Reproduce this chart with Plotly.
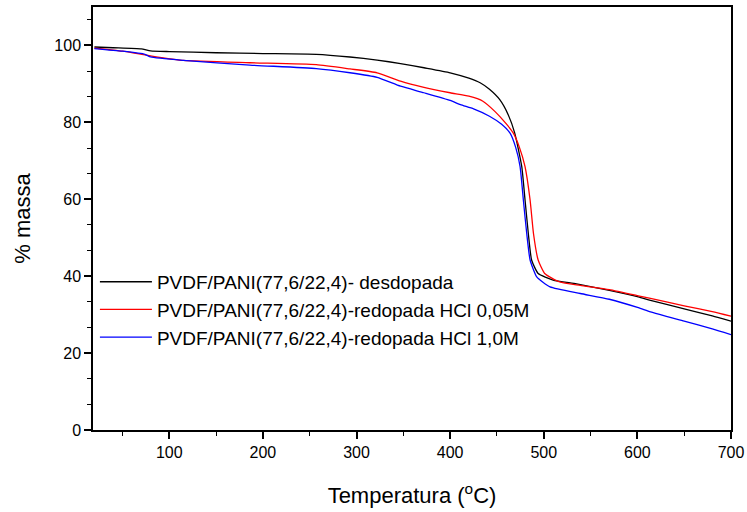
import plotly.graph_objects as go

# Temperature (°C) and mass (%)
t_black = [20, 40, 70, 80, 100, 150, 200, 257, 293, 322, 347, 372, 400, 420, 432, 442, 453, 462, 469, 476.5, 480, 483.5, 487, 494, 510, 535, 570, 601, 614, 650, 680, 700]
m_black = [99.6, 99.4, 99.1, 98.6, 98.4, 98.1, 97.9, 97.7, 97.0, 96.2, 95.3, 94.2, 92.9, 91.5, 90.3, 88.6, 85.9, 82.0, 77.2, 68.5, 59.8, 51.1, 44.2, 40.7, 39.0, 38.0, 36.3, 34.6, 33.7, 31.5, 29.7, 28.3]

t_red = [20, 50, 80, 115, 186, 257, 293, 322, 347, 372, 400, 420, 435, 448, 460, 467.5, 474, 480, 485.4, 489, 494, 501, 517, 539, 570, 601, 614, 650, 680, 700]
m_red = [99.3, 98.5, 97.3, 96.1, 95.5, 95.0, 93.9, 92.9, 90.7, 89.1, 87.7, 86.8, 85.5, 82.8, 79.6, 77.2, 73.5, 68.5, 59.8, 51.1, 44.2, 40.7, 38.5, 37.6, 36.5, 34.9, 34.2, 32.3, 30.8, 29.6]

t_blue = [20, 50, 74, 80, 115, 186, 257, 293, 322, 347, 372, 400, 411, 425, 442, 455, 464, 470, 474.7, 478.2, 481.8, 485.4, 492.5, 506.7, 539, 570, 601, 614, 650, 680, 700]
m_blue = [99.2, 98.5, 97.7, 97.0, 96.1, 94.9, 94.0, 92.9, 91.7, 89.4, 87.7, 85.7, 84.6, 83.5, 81.6, 79.5, 77.2, 73.5, 68.5, 59.8, 51.1, 44.2, 39.8, 37.2, 35.5, 34.0, 31.8, 30.7, 28.3, 26.3, 24.8]

names = ["PVDF/PANI(77,6/22,4)- desdopada",
         "PVDF/PANI(77,6/22,4)-redopada HCl 0,05M",
         "PVDF/PANI(77,6/22,4)-redopada HCl 1,0M"]
colors = ["black", "red", "blue"]

fig = go.Figure()
for t, m, n, c in zip([t_black, t_red, t_blue], [m_black, m_red, m_blue], names, colors):
    fig.add_trace(go.Scatter(x=t, y=m, mode="lines", name=n,
                             line=dict(color=c, width=1.3, shape="spline", smoothing=0.5)))

fig.update_layout(
    width=747, height=512,
    margin=dict(l=93, r=16, t=7, b=82, autoexpand=False),
    plot_bgcolor="white", paper_bgcolor="white",
    font=dict(family="Liberation Sans, Arial, sans-serif", color="black", size=16),
    showlegend=True,
    legend=dict(x=0.003, y=0.395, xanchor="left", yanchor="top", itemwidth=52,
                font=dict(size=19), bgcolor="rgba(0,0,0,0)", tracegroupgap=0),
)
fig.update_xaxes(range=[18.5, 700], showline=True, linecolor="black", linewidth=1.5, mirror=True,
                 showgrid=False, zeroline=False, ticks="outside", ticklen=7, tickwidth=1.5,
                 tickcolor="black", dtick=100, tick0=0, automargin=False,
                 minor=dict(ticks="outside", ticklen=4, tickwidth=1.2, tickcolor="black", dtick=50, tick0=0, showgrid=False),
                 title=dict(text="Temperatura (<sup>o</sup>C)", font=dict(size=22), standoff=28),
                 tickfont=dict(size=16))
fig.update_yaxes(range=[0, 110], showline=True, linecolor="black", linewidth=1.5, mirror=True,
                 showgrid=False, zeroline=False, ticks="outside", ticklen=7, tickwidth=1.5,
                 tickcolor="black", dtick=20, tick0=0, automargin=False,
                 minor=dict(ticks="outside", ticklen=4, tickwidth=1.2, tickcolor="black", dtick=20/3, tick0=0, showgrid=False),
                 title=dict(text="% massa", font=dict(size=22), standoff=18),
                 tickfont=dict(size=16))

fig.write_html("out.html", config={"displayModeBar": False},
               post_script="document.body.style.margin='0';document.body.style.padding='0';")
